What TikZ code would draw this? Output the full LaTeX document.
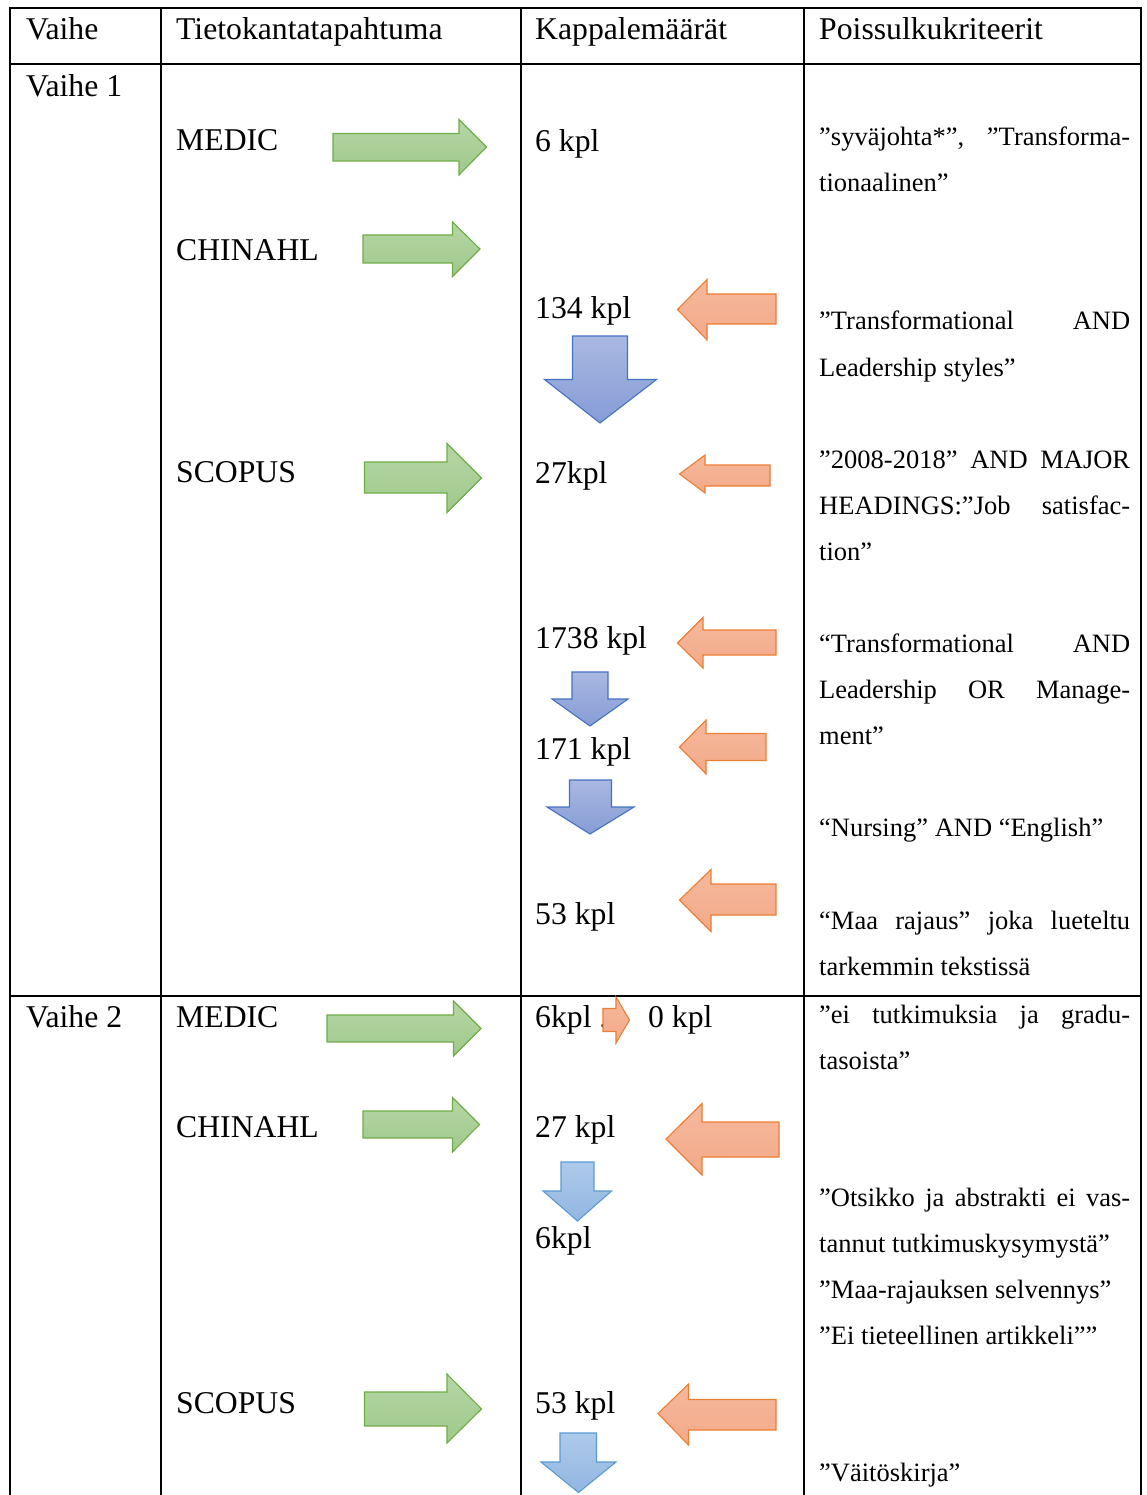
\documentclass[tikz,border=0pt]{standalone}
\usepackage{fontspec}
\setmainfont{Liberation Serif}
\definecolor{gline}{HTML}{70AD47}
\definecolor{gtop}{HTML}{B5D6A6}
\definecolor{gbot}{HTML}{9FC98A}
\definecolor{oline}{HTML}{ED7D31}
\definecolor{otop}{HTML}{F6B89C}
\definecolor{obot}{HTML}{F2AA89}
\definecolor{bline}{HTML}{4472C4}
\definecolor{btop}{HTML}{AAB8E2}
\definecolor{bbot}{HTML}{859CD5}
\definecolor{lbline}{HTML}{5B9BD5}
\definecolor{lbtop}{HTML}{AECAEA}
\definecolor{lbbot}{HTML}{92B5E1}
\newcommand{\HorArr}[9]{\path[#1] (#2,#3) -- (#5,#3) -- (#5,#6) -- (#8,#9) -- (#5,#7) -- (#5,#4) -- (#2,#4) -- cycle;}
\newcommand{\DownArr}[9]{\path[#1] (#3,#2) -- (#3,#5) -- (#6,#5) -- (#8,#9) -- (#7,#5) -- (#4,#5) -- (#4,#2) -- cycle;}
\newcommand{\JL}[1]{\makebox[311pt][s]{#1}}
\tikzset{
  tbl/.style={line width=1.7pt, line cap=rect},
  maintxt/.style={font=\fontsize{31.7}{38}\selectfont, inner sep=0pt, anchor=base west},
  crit/.style={font=\fontsize{26.5}{32}\selectfont, inner sep=0pt, anchor=base west},
  garr/.style={draw=gline, line width=1.1pt, top color=gtop, bottom color=gbot},
  oarr/.style={draw=oline, line width=1.1pt, top color=otop, bottom color=obot},
  barr/.style={draw=bline, line width=1.1pt, top color=btop, bottom color=bbot},
  lbarr/.style={draw=lbline, line width=1.1pt, top color=lbtop, bottom color=lbbot}
}
\begin{document}
\begin{tikzpicture}[x=1pt,y=-1pt]
\useasboundingbox (0,0) rectangle (1147,1495);
\fill[white] (0,0) rectangle (1147,1495);
% table
\draw[tbl] (10,8) -- (1141,8);
\draw[tbl] (10,64) -- (1141,64);
\draw[tbl] (10,996) -- (1141,996);
\draw[tbl] (10,8) -- (10,1497);
\draw[tbl] (161,8) -- (161,1497);
\draw[tbl] (521,8) -- (521,1497);
\draw[tbl] (804,8) -- (804,1497);
\draw[tbl] (1141,8) -- (1141,1497);
% header
\node[maintxt] (h1) at (26,40) {Vaihe};
\node[maintxt] (h2) at (176,40) {Tietokantatapahtuma};
\node[maintxt] (h3) at (535,40) {Kappalemäärät};
\node[maintxt] (h4) at (819,40) {Poissulkukriteerit};
% Vaihe 1
\node[maintxt] (v1) at (26,97) {Vaihe 1};
\node[maintxt] (db1) at (176,151) {MEDIC};
\node[maintxt] (db2) at (176,261) {CHINAHL};
\node[maintxt] (db3) at (176,482) {SCOPUS};
\node[maintxt] (k1) at (535,152) {6 kpl};
\node[maintxt] (k2) at (535,318) {134 kpl};
\node[maintxt] (k3) at (535,483) {27kpl};
\node[maintxt] (k4) at (535,648) {1738 kpl};
\node[maintxt] (k5) at (535,759) {171 kpl};
\node[maintxt] (k6) at (535,924) {53 kpl};
\node[crit] (c1a) at (819,146) {\JL{”syväjohta*”, ”Transforma-}};
\node[crit] (c1b) at (819,192) {tionaalinen”};
\node[crit] (c2a) at (819,330) {\JL{”Transformational AND}};
\node[crit] (c2b) at (819,376) {Leadership styles”};
\node[crit] (c3a) at (819,468) {\JL{”2008-2018” AND MAJOR}};
\node[crit] (c3b) at (819,514) {\JL{HEADINGS:”Job satisfac-}};
\node[crit] (c3c) at (819,560) {tion”};
\node[crit] (c4a) at (819,652) {\JL{“Transformational AND}};
\node[crit] (c4b) at (819,698) {\JL{Leadership OR Manage-}};
\node[crit] (c4c) at (819,744) {ment”};
\node[crit] (c5a) at (819,836) {“Nursing” AND “English”};
\node[crit] (c6a) at (819,929) {\JL{“Maa rajaus” joka lueteltu}};
\node[crit] (c6b) at (819,975) {tarkemmin tekstissä};
% Vaihe 2
\node[maintxt] (v2) at (26,1027) {Vaihe 2};
\node[maintxt] (db4) at (176,1027) {MEDIC};
\node[maintxt] (db5) at (176,1137) {CHINAHL};
\node[maintxt] (db6) at (176,1413) {SCOPUS};
\node[maintxt] (k7) at (535,1027) {6kpl .};
\node[maintxt] (k8) at (648,1027) {0 kpl};
\node[maintxt] (k9) at (535,1137) {27 kpl};
\node[maintxt] (k10) at (535,1248) {6kpl};
\node[maintxt] (k11) at (535,1413) {53 kpl};
\node[crit] (c7a) at (819,1023) {\JL{”ei tutkimuksia ja gradu-}};
\node[crit] (c7b) at (819,1069) {tasoista”};
\node[crit] (c8a) at (819,1206) {\JL{”Otsikko ja abstrakti ei vas-}};
\node[crit] (c8b) at (819,1252) {tannut tutkimuskysymystä”};
\node[crit] (c8c) at (819,1298) {”Maa-rajauksen selvennys”};
\node[crit] (c8d) at (819,1344) {”Ei tieteellinen artikkeli””};
\node[crit] (c9a) at (819,1481) {”Väitöskirja”};
% green arrows
\HorArr{garr}{333}{133.5}{161}{459}{119.5}{175}{486.5}{147}
\HorArr{garr}{363}{235}{263}{452.5}{222}{276.5}{480}{249}
\HorArr{garr}{364.5}{462}{493}{447}{443.5}{512.5}{481.5}{478}
\HorArr{garr}{327}{1015}{1042}{453.5}{1001}{1056}{481}{1028.5}
\HorArr{garr}{363}{1111}{1138}{452.5}{1097.5}{1152}{479.5}{1124.5}
\HorArr{garr}{364.5}{1392}{1426}{447}{1374}{1443}{481.5}{1409}
% orange arrows
\HorArr{oarr}{776}{294}{324}{707}{279.5}{340}{677.5}{309.5}
\HorArr{oarr}{770}{465}{486}{705}{455}{493}{679.5}{474}
\HorArr{oarr}{776}{630}{655}{703}{617.5}{668}{677.5}{643}
\HorArr{oarr}{766}{733.5}{760.5}{706}{720}{774}{679.5}{747}
\HorArr{oarr}{776}{884}{915}{711}{869.5}{931.5}{679.5}{900}
\HorArr{oarr}{603}{1008.5}{1031.5}{616}{997}{1043}{629.5}{1020}
\HorArr{oarr}{779}{1122}{1157}{702}{1103.5}{1175}{666}{1139}
\HorArr{oarr}{776}{1399.5}{1430}{688.5}{1384}{1445}{658}{1413.5}
% blue arrows
\DownArr{barr}{336}{572.5}{627.5}{379.5}{544.5}{656.5}{600}{423}
\DownArr{barr}{672}{572}{608}{699}{552}{628}{590}{726}
\DownArr{barr}{780}{569.5}{611.5}{807}{547}{634}{590}{834}
\DownArr{lbarr}{1162}{561}{594}{1191}{543}{611.5}{577.5}{1221}
\DownArr{lbarr}{1433}{560}{596.5}{1462}{541}{616}{578.5}{1492.5}
\end{tikzpicture}
\end{document}
